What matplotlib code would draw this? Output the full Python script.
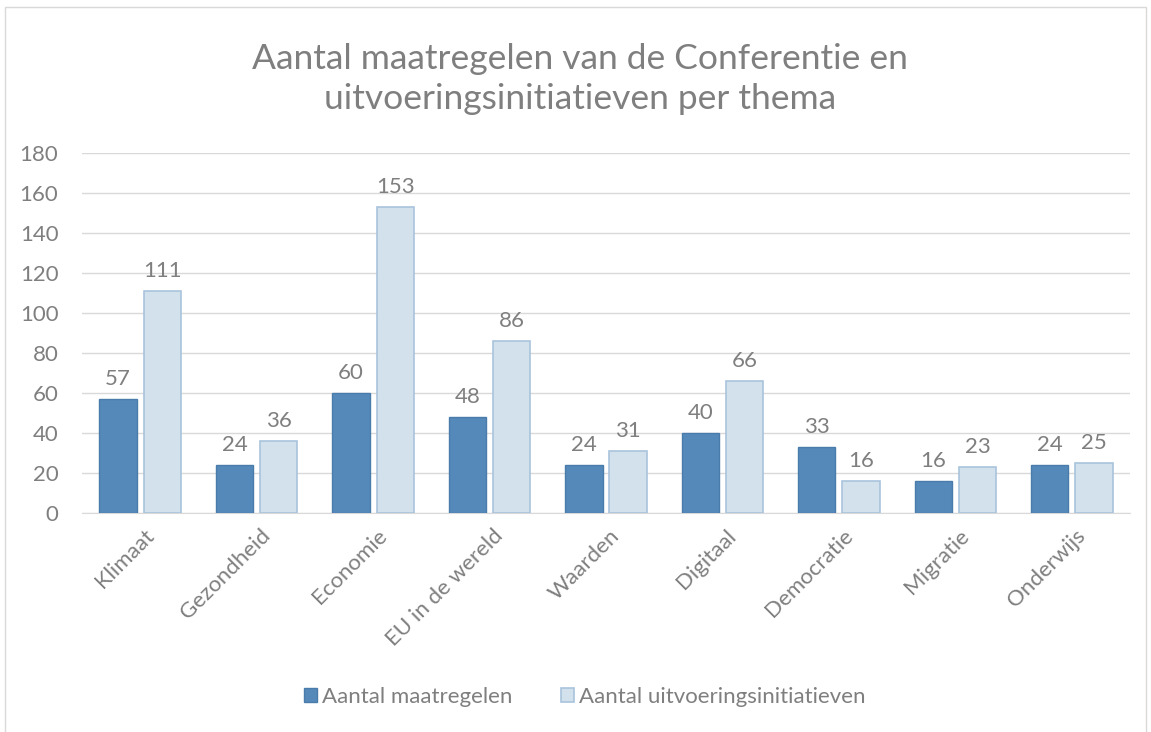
import numpy as np
import matplotlib
matplotlib.use("Agg")
import matplotlib.pyplot as plt
from matplotlib.patches import Rectangle

# Data
themes = ['Klimaat', 'Gezondheid', 'Economie', 'EU in de wereld', 'Waarden',
          'Digitaal', 'Democratie', 'Migratie', 'Onderwijs']
maatregelen = [57, 24, 60, 48, 24, 40, 33, 16, 24]
initiatieven = [111, 36, 153, 86, 31, 66, 16, 23, 25]

plt.rcParams['font.family'] = ['Lato', 'DejaVu Sans']
grey = '#7f7f7f'
dark = '#5589ba'
light = '#d3e1ed'

fig = plt.figure(figsize=(11.51, 7.32), dpi=100, facecolor='white')
fig.patches.append(Rectangle((0.004, -0.01), 0.992, 1.0, transform=fig.transFigure,
                             fill=False, edgecolor='#d9d9d9', lw=1))
ax = fig.add_axes((0.0712, 0.2992, 0.9106, 0.4918))

x = np.arange(len(themes))
w = 0.32
gap = 0.06
b1 = ax.bar(x - (w + gap) / 2, maatregelen, w, color=dark,
            edgecolor='#4a7cab', lw=1, zorder=3)
b2 = ax.bar(x + (w + gap) / 2, initiatieven, w, color=light,
            edgecolor='#a9c3dc', lw=1.2, zorder=3)

for bars in (b1, b2):
    for r in bars:
        ax.annotate(str(int(r.get_height())),
                    (r.get_x() + r.get_width() / 2, r.get_height()),
                    xytext=(0, 7), textcoords='offset points',
                    ha='center', va='bottom', fontsize=16, color=grey)

ax.set_xlim(-0.5, len(themes) - 0.5)
ax.set_ylim(0, 180)
ax.set_yticks(range(0, 181, 20))
ax.yaxis.grid(True, color='#d9d9d9', lw=1)
ax.set_axisbelow(True)
for s in ('top', 'right', 'left'):
    ax.spines[s].set_visible(False)
ax.spines['bottom'].set_color('#d9d9d9')
ax.tick_params(axis='both', length=0, labelsize=16, labelcolor=grey)
ax.tick_params(axis='y', pad=17)
ax.set_xticks(x + 0.03)
ax.set_xticklabels(themes, rotation=45, ha='right', rotation_mode='anchor')
ax.tick_params(axis='x', pad=9)

fig.text(0.504, 0.892, 'Aantal maatregelen van de Conferentie en\nuitvoeringsinitiatieven per thema',
         ha='center', va='center', fontsize=25.5, color=grey, linespacing=1.3)

fig.legend([b1, b2], ['Aantal maatregelen', 'Aantal uitvoeringsinitiatieven'],
           loc='center', bbox_to_anchor=(0.508, 0.048), ncol=2, frameon=False,
           fontsize=16, labelcolor=grey, handlelength=0.6, handleheight=0.6,
           handletextpad=0.2, columnspacing=2.2)

fig.savefig('out.png', dpi=100, facecolor='white')
